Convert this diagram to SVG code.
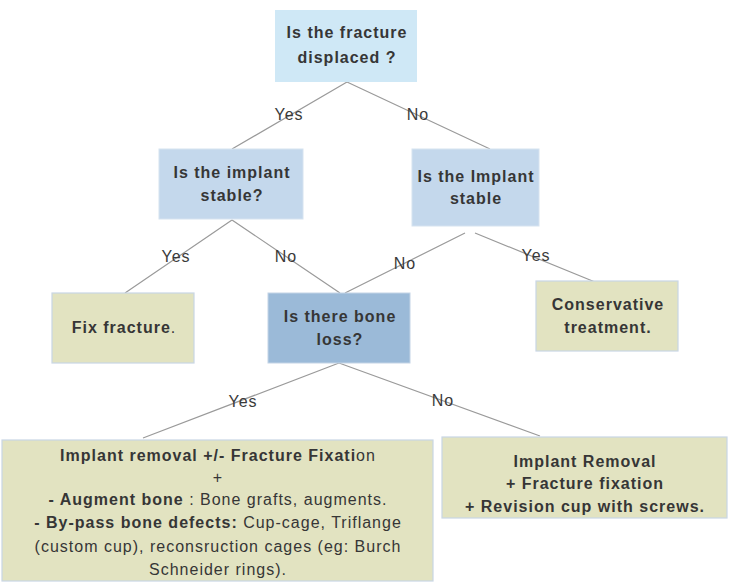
<svg xmlns="http://www.w3.org/2000/svg" width="733" height="583" viewBox="0 0 733 583">
<style>
text{font-family:"Liberation Sans",Arial,sans-serif;font-size:16px;fill:#363636;letter-spacing:1px;text-anchor:middle}
.b{font-weight:bold}
.n{font-weight:normal}
.lbl{fill:#3a3a3a}
.c{stroke:#9a9a9a;stroke-width:1.2;fill:none}
.q1{fill:#cfe8f6}
.q2{fill:#c4d8ec;stroke:#d6e3f0;stroke-width:1}
.q3{fill:#9bbad8;stroke:#c3d4e6;stroke-width:1}
.g{fill:#e2e3c1;stroke:#c9d6e4;stroke-width:1.2}
</style>
<g id="connectors">
<path class="c" d="M347 82 L232 149 M347 82 L490 149"/>
<path class="c" d="M232 220 L125 293 M232 220 L340 293"/>
<path class="c" d="M465 233 L345 293 M475 233 L595 282"/>
<path class="c" d="M339 363 L143 438 M339 363 L540 436"/>
<text class="lbl" x="289" y="120">Yes</text>
<text class="lbl" x="418" y="120">No</text>
<text class="lbl" x="176" y="262">Yes</text>
<text class="lbl" x="286" y="262">No</text>
<text class="lbl" x="405" y="269">No</text>
<text class="lbl" x="536" y="261">Yes</text>
<text class="lbl" x="243" y="407">Yes</text>
<text class="lbl" x="443" y="406">No</text>
</g>
<g id="n_displaced">
<rect class="q1" x="275" y="10" width="142" height="72"/>
<text class="b" x="347" y="38">Is the fracture</text>
<text class="b" x="347" y="63">displaced ?</text>
</g>
<g id="n_implant_stable_yes">
<rect class="q2" x="159" y="149" width="144" height="70"/>
<text class="b" x="232" y="178">Is the implant</text>
<text class="b" x="232" y="201">stable?</text>
</g>
<g id="n_implant_stable_no">
<rect class="q2" x="412" y="149" width="127" height="77"/>
<text class="b" x="476" y="182">Is the Implant</text>
<text class="b" x="476" y="204">stable</text>
</g>
<g id="n_fix">
<rect class="g" x="52" y="293" width="142" height="70"/>
<text x="124" y="333"><tspan class="b">Fix fracture</tspan>.</text>
</g>
<g id="n_boneloss">
<rect class="q3" x="268" y="293" width="142" height="70"/>
<text class="b" x="340" y="322">Is there bone</text>
<text class="b" x="340" y="345">loss?</text>
</g>
<g id="n_conservative">
<rect class="g" x="536" y="281" width="142" height="70"/>
<text class="b" x="608" y="310">Conservative</text>
<text class="b" x="608" y="333">treatment.</text>
</g>
<g id="n_removal_aug">
<rect class="g" x="2" y="440" width="431" height="141"/>
<text x="218" y="461"><tspan class="b">Implant removal +/- Fracture Fixati</tspan>on</text>
<text x="218" y="483">+</text>
<text x="218" y="505"><tspan class="b">- Augment bone</tspan> : Bone grafts, augments.</text>
<text x="218" y="528"><tspan class="b">- By-pass bone defects:</tspan> Cup-cage, Triflange</text>
<text x="218" y="552">(custom cup), reconsruction cages (eg: Burch</text>
<text x="218" y="575">Schneider rings).</text>
</g>
<g id="n_removal_fix">
<rect class="g" x="442" y="437" width="285" height="81"/>
<text class="b" x="585" y="467">Implant Removal</text>
<text class="b" x="585" y="489">+ Fracture fixation</text>
<text class="b" x="585" y="512">+ Revision cup with screws.</text>
</g>
</svg>
